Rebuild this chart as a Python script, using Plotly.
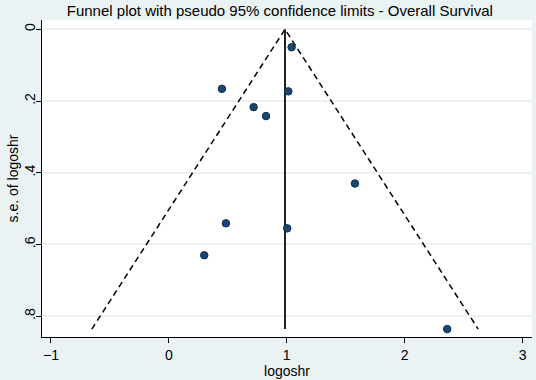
import plotly.graph_objects as go

logoshr = [1.041, 0.450, 1.013, 0.719, 0.824, 1.578, 0.484, 1.004, 0.300, 2.361]
se_logoshr = [0.050, 0.166, 0.173, 0.217, 0.242, 0.430, 0.541, 0.555, 0.630, 0.836]
theta = 0.985
x_ticks = [-1, 0, 1, 2, 3]
y_ticks = [0, 0.2, 0.4, 0.6, 0.8]
y_ticklabels = ["0", ".2", ".4", ".6", ".8"]

se_max = max(se_logoshr)
z = 1.96

fig = go.Figure()
fig.add_trace(go.Scatter(x=[theta - z * se_max, theta, theta + z * se_max],
                         y=[se_max, 0, se_max], mode="lines",
                         line=dict(color="black", width=1.5, dash="6px,4px"),
                         showlegend=False, hoverinfo="skip"))
fig.add_trace(go.Scatter(x=[theta, theta], y=[0, se_max], mode="lines",
                         line=dict(color="#222222", width=2),
                         showlegend=False, hoverinfo="skip"))
fig.add_trace(go.Scatter(x=logoshr, y=se_logoshr, mode="markers",
                         marker=dict(color="#1a476f", size=7.5,
                                     line=dict(color="#0f2f4f", width=1)),
                         showlegend=False))

fam = "Liberation Sans, Arial, sans-serif"
L, R, T, B = 42, 4, 20, 43
W, H = 536, 380
pw = W - L - R
fig.update_layout(
    width=W, height=H,
    margin=dict(l=L, r=R, t=T, b=B, autoexpand=False),
    paper_bgcolor="#eaf2f3", plot_bgcolor="white",
    font=dict(family=fam, size=14, color="black"),
    title=dict(text="Funnel plot with pseudo 95% confidence limits - Overall Survival",
               x=0.522, xanchor="center", y=0.972, yanchor="middle",
               font=dict(size=15, family=fam, color="black")),
    xaxis=dict(range=[-1.076, 3.08], tickvals=x_ticks, showgrid=False, zeroline=False,
               showline=True, linecolor="black", linewidth=1, automargin=False,
               ticks="outside", ticklen=5, tickcolor="black",
               tickfont=dict(size=14),
               title=dict(text="logoshr", standoff=0, font=dict(size=14))),
    yaxis=dict(range=[0.858, -0.026], tickvals=y_ticks, ticktext=y_ticklabels,
               tickangle=-90, showgrid=True, gridcolor="#eaf2f3", gridwidth=1.5,
               zeroline=False, showline=True, linecolor="black", linewidth=1,
               automargin=False, ticklabelstandoff=-5,
               ticks="outside", ticklen=5, tickcolor="black",
               tickfont=dict(size=14)),
    annotations=[dict(text="s.e. of logoshr", textangle=-90, showarrow=False,
                      xref="paper", yref="paper", x=(12 - L) / pw, y=0.5,
                      xanchor="center", yanchor="middle",
                      font=dict(size=14, family=fam, color="black"))],
)
fig.write_html("out.html", config={"displayModeBar": False},
               post_script="document.body.style.margin='0';document.body.style.overflow='hidden';")
